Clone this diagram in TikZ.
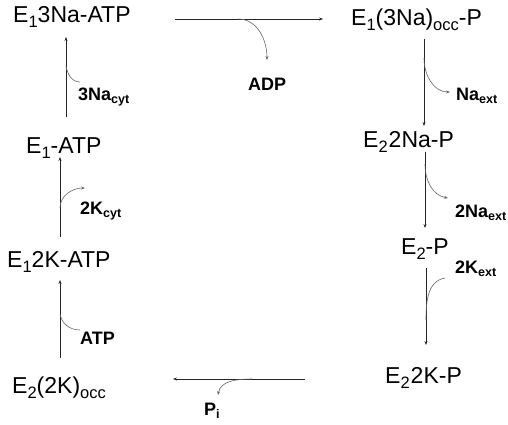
\documentclass[tikz,border=0pt]{standalone}
\usepackage{fontspec}
\setmainfont{Liberation Sans}
\usetikzlibrary{arrows.meta}
\newcommand\msub[1]{\raisebox{-5pt}{\fontsize{16.5}{16}\selectfont #1}}
\newcommand\lsub[1]{\raisebox{-3pt}{\fontsize{12.5}{12}\selectfont\bfseries #1}}
\tikzset{
  state/.style={inner sep=0pt, anchor=base west, font=\fontsize{23}{26}\selectfont},
  lab/.style={inner sep=0pt, anchor=base west, font=\fontsize{18}{20}\selectfont\bfseries},
  main/.style={draw=black!85, line width=0.8pt, -{Stealth[length=4pt,width=3pt]}},
  side/.style={draw=black!60, line width=0.6pt},
  sidearr/.style={side, -{Stealth[length=4pt,width=3pt]}}
}
\begin{document}
\begin{tikzpicture}[x=1pt,y=-1pt]
\useasboundingbox (0,0) rectangle (508,424);
% states
\node[state] (n1) at (13,22) {E\msub{1}3Na-ATP};
\node[state] (n2) at (351,25) {E\msub{1}(3Na)\msub{occ}-P};
\node[state] (n3) at (363,147) {E\msub{2}\kern1pt 2Na-P};
\node[state] (n4) at (401,254) {E\msub{2}-P};
\node[state] (n5) at (385,383) {E\msub{2}\kern1pt 2K-P};
\node[state] (n6) at (12,393) {E\msub{2}(2K)\msub{occ}};
\node[state] (n7) at (7,267) {E\msub{1}2K-ATP};
\node[state] (n8) at (26,153) {E\msub{1}-ATP};
% labels
\node[lab] (l1) at (78,100) {3Na\lsub{cyt}};
\node[lab] (l2) at (80,214) {2K\lsub{cyt}};
\node[lab] (l3) at (80,344) {ATP};
\node[lab] (l4) at (248,90) {ADP};
\node[lab] (l5) at (456,100) {Na\lsub{ext}};
\node[lab] (l6) at (455,217) {2Na\lsub{ext}};
\node[lab] (l7) at (455,273) {2K\lsub{ext}};
\node[lab] (l8) at (204,415) {P\lsub{i}};
% connector end points
\coordinate (a1s) at (66,117); \coordinate (a1e) at (66,37);
\coordinate (a2s) at (60,237); \coordinate (a2e) at (60,157);
\coordinate (a3s) at (60,358); \coordinate (a3e) at (60,280);
\coordinate (a4s) at (175,19); \coordinate (a4e) at (323,19);
\coordinate (a5s) at (424,39); \coordinate (a5e) at (424,126);
\coordinate (a6s) at (425,152); \coordinate (a6e) at (425,228);
\coordinate (a7s) at (426,268); \coordinate (a7e) at (426,345);
\coordinate (a8s) at (305,379); \coordinate (a8e) at (173,379);
% main arrows
\draw[main] (a1s) -- (a1e);
\draw[main] (a2s) -- (a2e);
\draw[main] (a3s) -- (a3e);
\draw[main] (a4s) -- (a4e);
\draw[main] (a5s) -- (a5e);
\draw[main] (a6s) -- (a6e);
\draw[main] (a7s) -- (a7e);
\draw[main] (a8s) -- (a8e);
% side curves
\coordinate (c1a) at (80,82); \coordinate (c1b) at (66,66);
\draw[side] (c1a) to[out=180,in=-80] (c1b);
\coordinate (c2a) at (60,208); \coordinate (c2b) at (85,188);
\draw[sidearr] (c2a) to[out=90,in=180] (c2b);
\coordinate (c3a) at (80,330); \coordinate (c3b) at (60,314);
\draw[side] (c3a) to[out=180,in=-80] (c3b);
\coordinate (c4a) at (238,19); \coordinate (c4b) at (267,60);
\draw[sidearr] (c4a) to[out=0,in=90] (c4b);
\coordinate (c5a) at (424,58); \coordinate (c5b) at (450,92);
\draw[sidearr] (c5a) to[out=-90,in=180] (c5b);
\coordinate (c6a) at (425,164); \coordinate (c6b) at (448,198);
\draw[sidearr] (c6a) to[out=-90,in=170] (c6b);
\coordinate (c7a) at (445,278); \coordinate (c7b) at (426,320);
\draw[side] (c7a) to[out=190,in=90] (c7b);
\coordinate (c8a) at (252,379); \coordinate (c8b) at (218,395);
\draw[sidearr] (c8a) to[out=180,in=80] (c8b);
\end{tikzpicture}
\end{document}
